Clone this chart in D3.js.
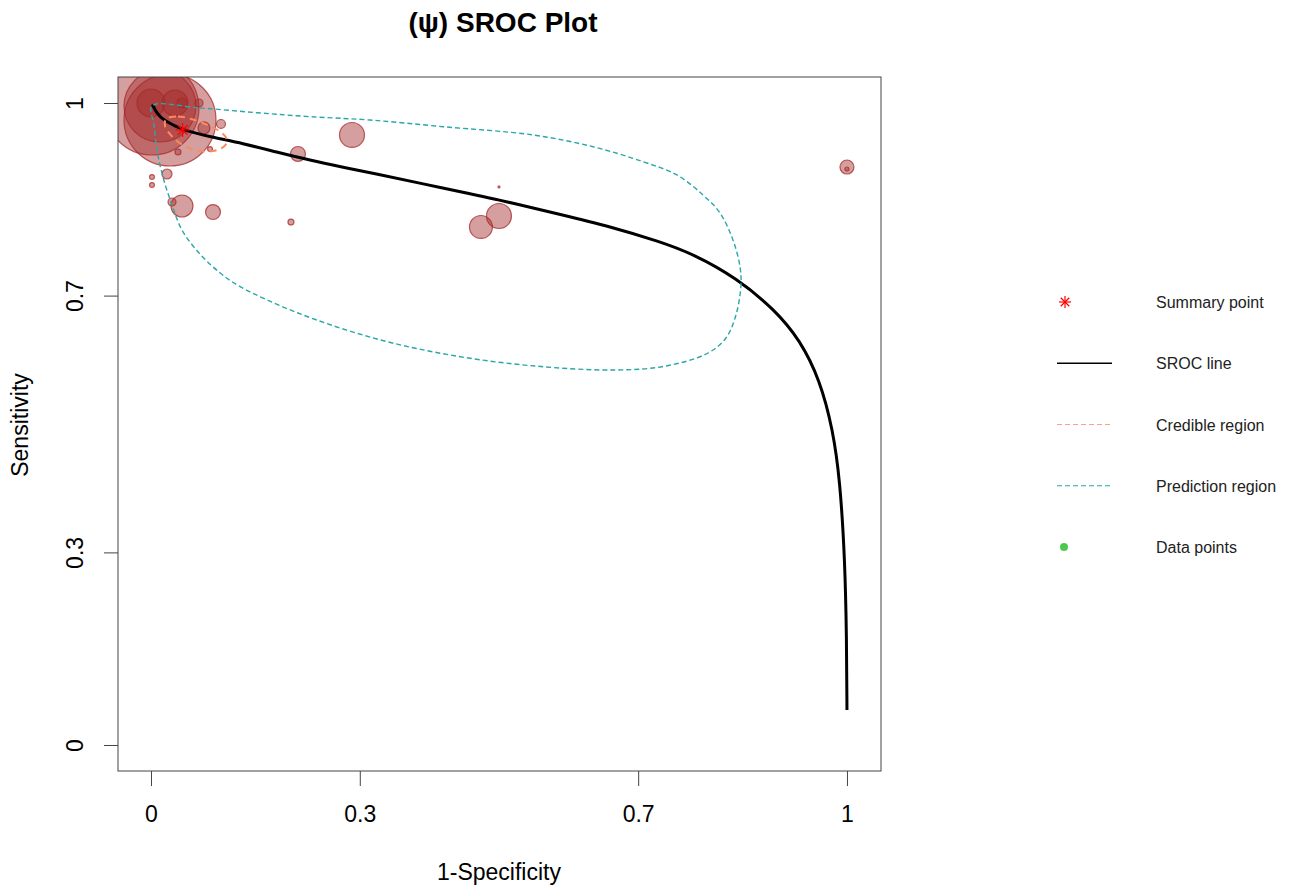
<!DOCTYPE html>
<html>
<head>
<meta charset="utf-8">
<script src="https://cdn.jsdelivr.net/npm/d3@7"></script>
<style>
  html, body { margin: 0; padding: 0; background: #fff; }
  svg { display: block; font-family: "Liberation Sans", Arial, sans-serif; }
</style>
</head>
<body>
<svg id="chart" width="1292" height="888"></svg>
<script>
// Individual studies: false positive rate, sensitivity, study weight (sample size)
const studyFpr  = [0.0014, 0.0273, 0.0129, 0.0000, 0.0345, 0.0445, 0.0690, 0.0761, 0.1006,
                   0.0388, 0.0848, 0.0014, 0.0230, 0.0014, 0.0302, 0.0445, 0.0891, 0.2011,
                   0.2112, 0.2888, 0.4741, 0.5000, 0.5000, 1.0000, 1.0000];
const studySens = [0.9922, 0.9735, 0.9953, 1.0000, 1.0000, 1.0000, 1.0000, 0.9611, 0.9673,
                   0.9237, 0.9283, 0.8847, 0.8894, 0.8723, 0.8458, 0.8396, 0.8302, 0.8146,
                   0.9206, 0.9502, 0.8069, 0.8240, 0.8692, 0.9003, 0.8972];
const studyN    = [2209, 2116, 1296, 196, 169, 25, 16, 36, 20,
                   9, 6, 6, 25, 6, 16, 121, 56, 9,
                   56, 156, 132, 156, 1, 49, 4];

// Summary operating point
const summaryFpr = 0.0455;
const summarySens = 0.958;

// SROC curve
const srocFpr  = [0.0019, 0.0082, 0.0177, 0.0369, 0.0464, 0.0848, 0.1320, 0.1806, 0.2284,
                  0.2759, 0.3147, 0.4195, 0.5014, 0.5876, 0.6595, 0.7313, 0.7787, 0.8415,
                  0.8966, 0.9325, 0.9612, 0.9799, 0.9899, 0.9971, 0.9995, 1.0000];
const srocSens = [0.9980, 0.9840, 0.9735, 0.9631, 0.9579, 0.9475, 0.9370, 0.9235, 0.9108,
                  0.9000, 0.8915, 0.8676, 0.8489, 0.8265, 0.8078, 0.7840, 0.7650, 0.7274,
                  0.6776, 0.6308, 0.5685, 0.4907, 0.4128, 0.2882, 0.1636, 0.0545];

// 95% credible region around the summary point
const credFpr  = [0.0216, 0.0388, 0.0575, 0.0761, 0.0934, 0.1063, 0.1092, 0.1020, 0.0891,
                  0.0704, 0.0532, 0.0374, 0.0259, 0.0201];
const credSens = [0.9751, 0.9790, 0.9751, 0.9681, 0.9595, 0.9486, 0.9393, 0.9299, 0.9252,
                  0.9252, 0.9307, 0.9408, 0.9533, 0.9642];

// 95% prediction region
const predFpr  = [0.0014, 0.0704, 0.1519, 0.2284, 0.3147, 0.4195, 0.5489, 0.6351, 0.7069,
                  0.7557, 0.7931, 0.8175, 0.8362, 0.8463, 0.8477, 0.8405, 0.8261, 0.8003,
                  0.7399, 0.6652, 0.5517, 0.4382, 0.3247, 0.2112, 0.1264, 0.0977, 0.0690,
                  0.0445, 0.0302, 0.0172, 0.0086, 0.0043];
const predSens = [0.9953, 0.9922, 0.9849, 0.9787, 0.9735, 0.9631, 0.9502, 0.9319, 0.9086,
                  0.8879, 0.8567, 0.8287, 0.7866, 0.7450, 0.7165, 0.6698, 0.6340, 0.6106,
                  0.5903, 0.5841, 0.5903, 0.6059, 0.6324, 0.6729, 0.7150, 0.7368, 0.7664,
                  0.8022, 0.8411, 0.8847, 0.9268, 0.9657];

const xTicks = [0, 0.3, 0.7, 1];
const yTicks = [0, 0.3, 0.7, 1];
const legendLabels = ["Summary point", "SROC line", "Credible region", "Prediction region", "Data points"];

const titleText = "(\u03c8) SROC Plot";
const xTitle = "1-Specificity";
const yTitle = "Sensitivity";

// ---- layout ----
const svg = d3.select("#chart");
const plot = { left: 118, right: 881, top: 77, bottom: 771 };

const x = d3.scaleLinear().domain([-0.0474, 1.0489]).range([plot.left, plot.right]);
const y = d3.scaleLinear().domain([-0.0405, 1.0405]).range([plot.bottom, plot.top]);
const r = d3.scaleSqrt().domain([0, 2304]).range([0, 48]);

const colBrown = "#a52a2a";
const colTeal = "#2aa7a7";
const colCred = "#fb8a5e";

svg.append("defs").append("clipPath").attr("id", "plotClip")
  .append("rect")
  .attr("x", plot.left).attr("y", plot.top)
  .attr("width", plot.right - plot.left).attr("height", plot.bottom - plot.top);

const inner = svg.append("g").attr("clip-path", "url(#plotClip)");

// study circles, area proportional to weight
const studies = studyFpr.map((f, i) => ({ fpr: f, sens: studySens[i], n: studyN[i] }));
inner.append("g").selectAll("circle")
  .data(studies)
  .join("circle")
  .attr("cx", d => x(d.fpr))
  .attr("cy", d => y(d.sens))
  .attr("r", d => r(d.n))
  .attr("fill", colBrown)
  .attr("fill-opacity", 0.45)
  .attr("stroke", colBrown)
  .attr("stroke-opacity", 0.75)
  .attr("stroke-width", 1.2);

// SROC line
inner.append("path")
  .datum(srocFpr.map((f, i) => [f, srocSens[i]]))
  .attr("d", d3.line().x(d => x(d[0])).y(d => y(d[1])).curve(d3.curveBasis))
  .attr("fill", "none")
  .attr("stroke", "#000")
  .attr("stroke-width", 3);

// credible region
inner.append("path")
  .datum(credFpr.map((f, i) => [f, credSens[i]]))
  .attr("d", d3.line().x(d => x(d[0])).y(d => y(d[1])).curve(d3.curveCatmullRomClosed.alpha(0.5)))
  .attr("fill", "none")
  .attr("stroke", colCred)
  .attr("stroke-width", 2)
  .attr("stroke-dasharray", "7,5");

// prediction region
inner.append("path")
  .datum(predFpr.map((f, i) => [f, predSens[i]]))
  .attr("d", d3.line().x(d => x(d[0])).y(d => y(d[1])).curve(d3.curveCatmullRomClosed.alpha(0.5)))
  .attr("fill", "none")
  .attr("stroke", colTeal)
  .attr("stroke-width", 1.4)
  .attr("stroke-dasharray", "5,3");

// asterisk marker (plus and cross overlaid)
function asterisk(g, cx, cy, s, color, w) {
  const d = s * Math.SQRT1_2;
  const segs = [[-s, 0, s, 0], [0, -s, 0, s], [-d, -d, d, d], [-d, d, d, -d]];
  g.selectAll(null).data(segs).join("line")
    .attr("x1", a => cx + a[0]).attr("y1", a => cy + a[1])
    .attr("x2", a => cx + a[2]).attr("y2", a => cy + a[3])
    .attr("stroke", color).attr("stroke-width", w);
}
asterisk(inner.append("g"), x(summaryFpr), y(summarySens), 7, "#ff0000", 1.2);

// plot frame
svg.append("rect")
  .attr("x", plot.left).attr("y", plot.top)
  .attr("width", plot.right - plot.left).attr("height", plot.bottom - plot.top)
  .attr("fill", "none").attr("stroke", "#444").attr("stroke-width", 1);

// axes
const fmt = d => String(d);
const xAxis = svg.append("g")
  .attr("transform", `translate(0,${plot.bottom})`)
  .call(d3.axisBottom(x).tickValues(xTicks).tickFormat(fmt).tickSize(15).tickPadding(20));
xAxis.select(".domain").remove();
xAxis.selectAll("line").attr("stroke", "#444");
xAxis.selectAll("text").attr("font-size", 23).attr("fill", "#000")
  .attr("font-family", "'Liberation Sans', Arial, sans-serif");

const yAxis = svg.append("g")
  .attr("transform", `translate(${plot.left},0)`)
  .call(d3.axisLeft(y).tickValues(yTicks).tickFormat(fmt).tickSize(14));
yAxis.select(".domain").remove();
yAxis.selectAll("line").attr("stroke", "#444");
yAxis.selectAll("text")
  .attr("x", null).attr("dy", null)
  .attr("text-anchor", "middle")
  .attr("transform", "translate(-35,0) rotate(-90)")
  .attr("font-size", 23).attr("fill", "#000")
  .attr("font-family", "'Liberation Sans', Arial, sans-serif");

// titles
svg.append("text")
  .attr("x", 503).attr("y", 32)
  .attr("text-anchor", "middle")
  .attr("font-size", 28).attr("font-weight", "bold")
  .text(titleText);

svg.append("text")
  .attr("x", 499).attr("y", 880)
  .attr("text-anchor", "middle")
  .attr("font-size", 23)
  .text(xTitle);

svg.append("text")
  .attr("transform", "translate(28,425) rotate(-90)")
  .attr("text-anchor", "middle")
  .attr("font-size", 23)
  .text(yTitle);

// legend
const legY = d3.scalePoint().domain(legendLabels).range([302, 547]);
const leg = svg.append("g");
leg.selectAll("text").data(legendLabels).join("text")
  .attr("x", 1156).attr("y", d => legY(d) + 6)
  .attr("font-size", 16).attr("fill", "#222")
  .text(d => d);

asterisk(leg.append("g"), 1065, legY(legendLabels[0]), 6, "#ff0000", 1.2);
leg.append("line")
  .attr("x1", 1057).attr("x2", 1112).attr("y1", legY(legendLabels[1])).attr("y2", legY(legendLabels[1]))
  .attr("stroke", "#000").attr("stroke-width", 1.3);
leg.append("line")
  .attr("x1", 1057).attr("x2", 1112).attr("y1", legY(legendLabels[2])).attr("y2", legY(legendLabels[2]))
  .attr("stroke", "#f9a08c").attr("stroke-width", 1.2).attr("stroke-dasharray", "5,3");
leg.append("line")
  .attr("x1", 1057).attr("x2", 1112).attr("y1", legY(legendLabels[3])).attr("y2", legY(legendLabels[3]))
  .attr("stroke", colTeal).attr("stroke-width", 1.2).attr("stroke-dasharray", "5,3");
leg.append("circle")
  .attr("cx", 1064).attr("cy", legY(legendLabels[4])).attr("r", 4)
  .attr("fill", "#4cc94c");
</script>
</body>
</html>
